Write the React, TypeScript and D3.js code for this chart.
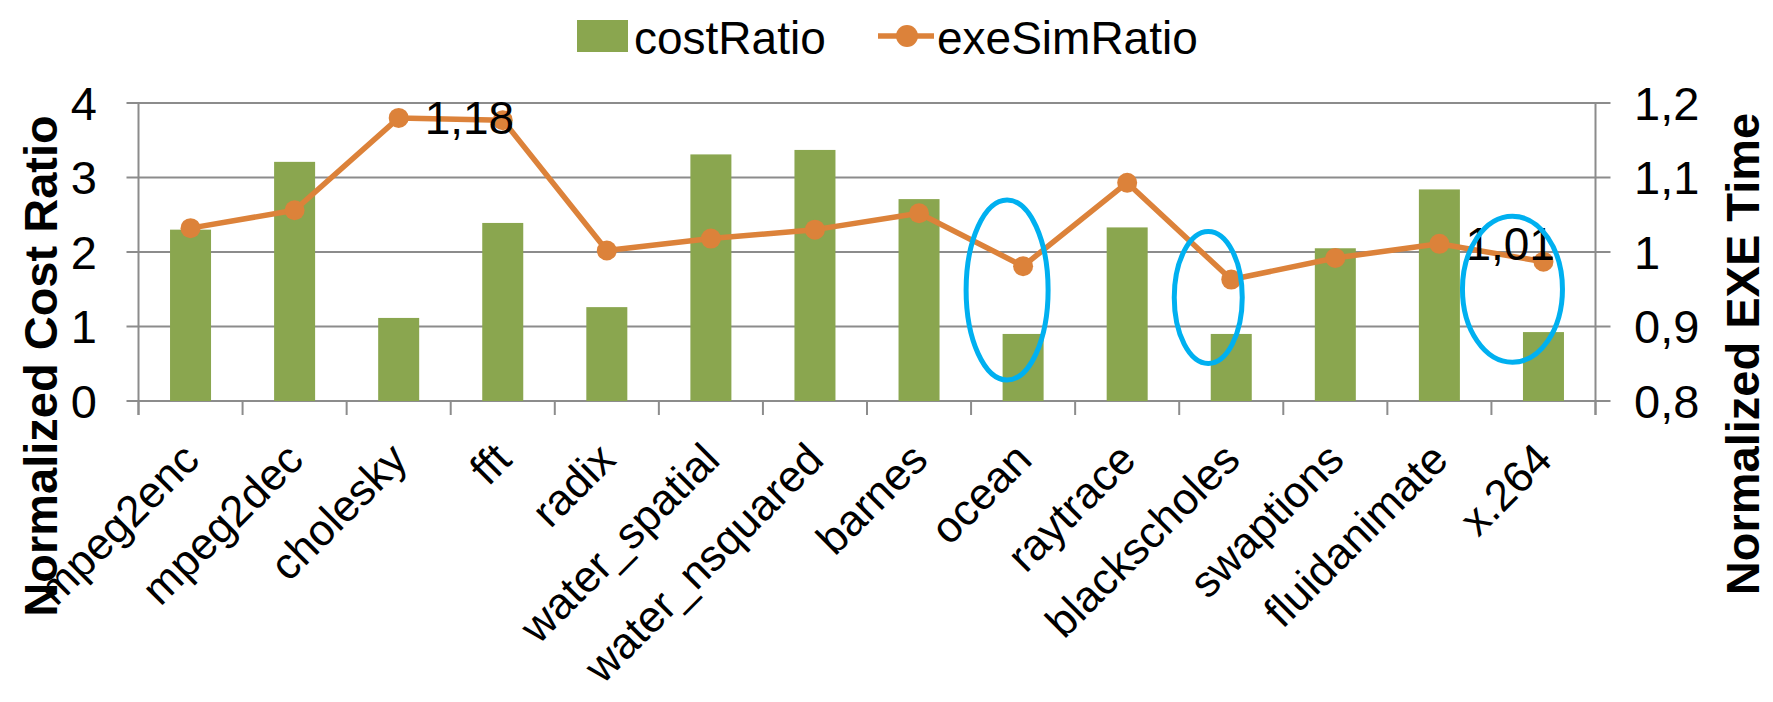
import React from "react";
import * as d3 from "d3";

// Benchmarks and the two measured ratios
const categories = [
  "mpeg2enc", "mpeg2dec", "cholesky", "fft", "radix", "water_spatial",
  "water_nsquared", "barnes", "ocean", "raytrace", "blackscholes",
  "swaptions", "fluidanimate", "x.264",
];
const costRatio = [2.3, 3.21, 1.115, 2.39, 1.26, 3.31, 3.37, 2.71, 0.9, 2.33, 0.9, 2.05, 2.84, 0.925];
const exeSimRatio = [1.032, 1.056, 1.18, 1.177, 1.002, 1.018, 1.03, 1.052, 0.981, 1.093, 0.963, 0.992, 1.011, 0.987];

const leftTicks = [0, 1, 2, 3, 4];
const rightTicks = [0.8, 0.9, 1.0, 1.1, 1.2];

// Values printed next to their points
const labelledPoints = ["cholesky", "fluidanimate"];

// Highlight rings: category, horizontal shift, centre on the right axis, radii
const rings = [
  { cat: "ocean", dx: -16, cy: 0.949, rx: 41, ry: 90 },
  { cat: "blackscholes", dx: -23, cy: 0.939, rx: 34, ry: 66 },
  { cat: "x.264", dx: -31, cy: 0.95, rx: 50, ry: 73 },
];

const W = 1773;
const H = 702;
const M = { left: 138.5, right: 1595.5, top: 103, bottom: 401 };

const GREEN = "#8AA64F";
const ORANGE = "#DC823A";
const GRID = "#8C8C8C";
const FONT = "'Liberation Sans', Arial, sans-serif";

const fmt = (v: number) => {
  const s = d3.format(".2~f")(v);
  return s.replace(".", ",");
};

export default function App() {
  const x = d3.scaleBand<string>().domain(categories).range([M.left, M.right]).padding(0);
  const yL = d3.scaleLinear().domain([0, 4]).range([M.bottom, M.top]);
  const yR = d3.scaleLinear().domain([0.8, 1.2]).range([M.bottom, M.top]);
  const bw = x.bandwidth();
  const barW = bw * 0.394;
  const cx = (c: string) => (x(c) as number) + bw / 2;

  const line = d3
    .line<number>()
    .x((_, i) => cx(categories[i]))
    .y((d) => yR(d));

  const boundaries = d3.range(categories.length + 1).map((i) => M.left + i * bw);

  return (
    <svg
      width={W}
      height={H}
      style={{ position: "absolute", left: 0, top: 0, background: "#fff" }}
      fontFamily={FONT}
    >
      {/* gridlines with outer tick stubs */}
      {leftTicks.map((t) => (
        <line key={"g" + t} x1={M.left - 12} x2={M.right + 15} y1={yL(t)} y2={yL(t)} stroke={GRID} strokeWidth={2} />
      ))}
      {/* axes */}
      <line x1={M.left} x2={M.left} y1={M.top} y2={M.bottom + 14} stroke={GRID} strokeWidth={2} />
      <line x1={M.right} x2={M.right} y1={M.top} y2={M.bottom + 14} stroke={GRID} strokeWidth={2} />
      {boundaries.map((bx, i) => (
        <line key={"t" + i} x1={bx} x2={bx} y1={M.bottom} y2={M.bottom + 14} stroke={GRID} strokeWidth={2} />
      ))}

      {/* bars */}
      {costRatio.map((v, i) => (
        <rect
          key={"b" + i}
          x={cx(categories[i]) - barW / 2}
          y={yL(v)}
          width={barW}
          height={yL(0) - yL(v)}
          fill={GREEN}
        />
      ))}

      {/* line series */}
      <path d={line(exeSimRatio) as string} fill="none" stroke={ORANGE} strokeWidth={5.5} strokeLinejoin="round" />
      {exeSimRatio.map((v, i) => (
        <circle key={"p" + i} cx={cx(categories[i])} cy={yR(v)} r={10} fill={ORANGE} />
      ))}

      {/* data labels */}
      {labelledPoints.map((c) => {
        const i = categories.indexOf(c);
        return (
          <text key={"l" + c} x={cx(c) + 26} y={yR(exeSimRatio[i])} dominantBaseline="central" fontSize={46} fill="#000">
            {fmt(Math.round(exeSimRatio[i] * 100) / 100)}
          </text>
        );
      })}

      {/* highlight rings */}
      {rings.map((r) => (
        <ellipse
          key={"r" + r.cat}
          cx={cx(r.cat) + r.dx}
          cy={yR(r.cy)}
          rx={r.rx}
          ry={r.ry}
          fill="none"
          stroke="#00B0F0"
          strokeWidth={5}
        />
      ))}

      {/* left tick labels */}
      {leftTicks.map((t) => (
        <text key={"yl" + t} x={97} y={yL(t)} textAnchor="end" dominantBaseline="central" fontSize={47}>
          {fmt(t)}
        </text>
      ))}
      {/* right tick labels */}
      {rightTicks.map((t) => (
        <text key={"yr" + t} x={1634} y={yR(t)} textAnchor="start" dominantBaseline="central" fontSize={47}>
          {fmt(t)}
        </text>
      ))}

      {/* category labels */}
      {categories.map((c) => (
        <text
          key={"x" + c}
          transform={`translate(${cx(c)},451) rotate(-45)`}
          textAnchor="end"
          dominantBaseline="central"
          fontSize={44}
        >
          {c}
        </text>
      ))}

      {/* axis titles */}
      <text transform="translate(57,366) rotate(-90)" textAnchor="middle" fontSize={47} fontWeight="bold">
        Normalized Cost Ratio
      </text>
      <text transform="translate(1759,354) rotate(-90)" textAnchor="middle" fontSize={47} fontWeight="bold">
        Normalized EXE Time
      </text>

      {/* legend */}
      <rect x={577} y={20} width={51} height={32} fill={GREEN} />
      <text x={634} y={54} fontSize={46}>costRatio</text>
      <line x1={878} x2={934} y1={36} y2={36} stroke={ORANGE} strokeWidth={5.5} />
      <circle cx={907} cy={36} r={11} fill={ORANGE} />
      <text x={937} y={54} fontSize={46}>exeSimRatio</text>
    </svg>
  );
}
